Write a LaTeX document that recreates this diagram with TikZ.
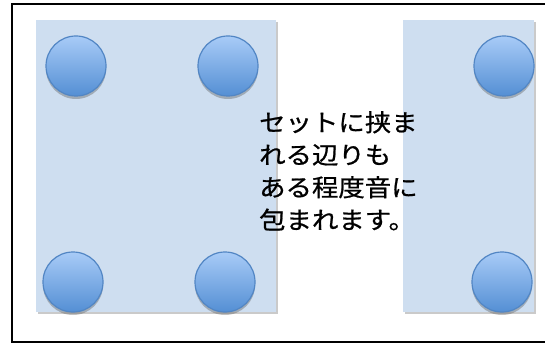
\documentclass[tikz,border=0pt]{standalone}
\usepackage{fontspec}
\newfontfamily\jpfont[FakeBold=0.8]{Noto Sans CJK JP}
\usetikzlibrary{shadows}
\definecolor{panelblue}{RGB}{206,222,240}
\definecolor{balltop}{RGB}{168,203,247}
\definecolor{ballbot}{RGB}{84,143,212}
\definecolor{ballborder}{RGB}{82,134,196}
\tikzset{
  panel/.style={fill=panelblue, draw=none,
    drop shadow={shadow xshift=1.5pt, shadow yshift=-2pt, opacity=0.35, fill=black!60}},
  ball/.style={circle, minimum size=60pt, inner sep=0pt, draw=ballborder, line width=1.2pt,
    top color=balltop, bottom color=ballbot,
    drop shadow={shadow xshift=0pt, shadow yshift=-3pt, opacity=0.35, fill=black!70}},
  frame/.style={draw=black, line width=2pt},
  label/.style={font=\jpfont\fontsize{24}{32.5}\selectfont, align=left, anchor=north west, inner sep=0pt}
}
\begin{document}
\begin{tikzpicture}[x=1pt,y=-1pt]
\useasboundingbox (0,0) rectangle (545,344);
\draw[frame] (11.5,4.5) rectangle (548,342);
\path[panel] (36,20) rectangle (276,312);
\path[panel] (403,20) rectangle (534,312);
\node[ball] (b1) at (76,66) {};
\node[ball] (b2) at (228,66) {};
\node[ball] (b3) at (73,282) {};
\node[ball] (b4) at (225,282) {};
\node[ball] (b5) at (504,66) {};
\node[ball] (b6) at (502,282) {};
\node[label] (t) at (259,111) {\scalebox{1.1}[1]{セットに挟ま}\\\scalebox{1.1}[1]{れる辺りも}\\\scalebox{1.1}[1]{ある程度音に}\\\scalebox{1.1}[1]{包まれます。}};
\end{tikzpicture}
\end{document}
